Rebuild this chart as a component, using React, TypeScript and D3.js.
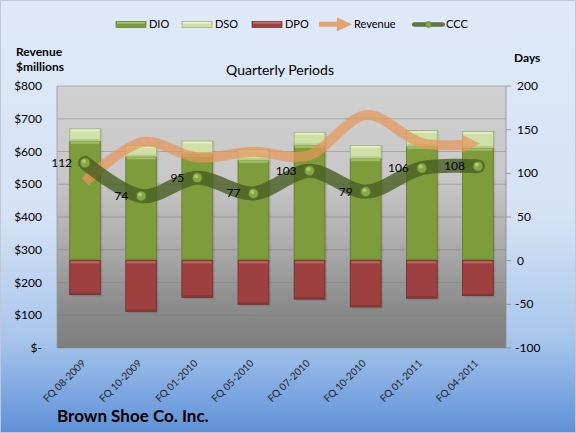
import React from 'react';
import * as d3 from 'd3';

// quarterly periods and values
const periods = ['FQ 08-2009', 'FQ 10-2009', 'FQ 01-2010', 'FQ 05-2010', 'FQ 07-2010', 'FQ 10-2010', 'FQ 01-2011', 'FQ 04-2011'];
const dio = [137, 119, 122, 115, 132, 117, 131, 129];
const dso = [14, 13, 15, 12, 15, 15, 18, 19];
const dpo = [-39, -58, -42, -50, -44, -53, -43, -40];
const revenue = [508, 628, 582, 599, 589, 711, 626, 624];
const ccc = [112, 74, 95, 77, 103, 79, 106, 108];
const revenueTicks = [0, 100, 200, 300, 400, 500, 600, 700, 800];
const dayTicks = [-100, -50, 0, 50, 100, 150, 200];

const W = 576;
const H = 433;
const plot = { left: 57, right: 506, top: 86, bottom: 348 };
const font = 'Lato, "Open Sans", sans-serif';

const colors = {
  dio: '#7E9C3C',
  dioTop: '#A9C56A',
  dioEdge: '#5E7A2A',
  dso: '#CFE0A8',
  dsoTop: '#E8F1D2',
  dsoEdge: '#9CB36D',
  dpo: '#9E4040',
  dpoTop: '#C96E6E',
  dpoEdge: '#6F2A2A',
  revenue: '#E8965A',
  ccc: '#4A5F23',
  cccDot: '#86A845',
};

export default function App() {
  const x = d3.scaleBand<string>().domain(periods).range([plot.left, plot.right]).paddingInner(0.45).paddingOuter(0.225);
  const cx = (i: number) => (x(periods[i]) ?? 0) + x.bandwidth() / 2;
  const yL = d3.scaleLinear().domain([0, 800]).range([plot.bottom, plot.top]);
  const yR = d3.scaleLinear().domain([-100, 200]).range([plot.bottom, plot.top]);
  const bw = x.bandwidth();

  const revPath = d3.line<number>().x((_, i) => cx(i)).y((d) => yL(d)).curve(d3.curveCatmullRom.alpha(0))(revenue) ?? '';
  const cccPath = d3.line<number>().x((_, i) => cx(i)).y((d) => yR(d)).curve(d3.curveCatmullRom.alpha(0))(ccc) ?? '';

  // arrow head at the end of the revenue line
  const n = revenue.length - 1;
  const tipX = cx(n) + 2;
  const tipY = yL(revenue[n]);
  const ang = Math.atan2(yL(revenue[n]) - yL(revenue[n - 1]), cx(n) - cx(n - 1)) * 0.4;
  const headLen = 18;
  const headHalf = 9;
  const bx = tipX - headLen * Math.cos(ang);
  const by = tipY - headLen * Math.sin(ang);
  const head = `M${tipX},${tipY}L${bx - headHalf * Math.sin(ang)},${by + headHalf * Math.cos(ang)}L${bx + headHalf * Math.sin(ang)},${by - headHalf * Math.cos(ang)}Z`;

  const bar = (i: number, y0: number, y1: number, fill: string, top: string, edge: string, key: string) => {
    const xa = x(periods[i]) ?? 0;
    const yt = Math.min(yR(y0), yR(y1));
    const h = Math.abs(yR(y1) - yR(y0));
    return (
      <g key={key}>
        <rect x={xa} y={yt} width={bw} height={h} fill={fill} stroke={edge} strokeWidth={0.8} />
        <rect x={xa + 1} y={yt + 0.6} width={bw - 2} height={2} fill={top} opacity={0.85} />
        <rect x={xa + 1} y={yt + h - 2} width={bw - 2} height={1.5} fill={edge} opacity={0.5} />
      </g>
    );
  };

  const legendItems = [
    { label: 'DIO', x: 116, fill: colors.dio, top: colors.dioTop, edge: colors.dioEdge },
    { label: 'DSO', x: 182, fill: colors.dso, top: colors.dsoTop, edge: colors.dsoEdge },
    { label: 'DPO', x: 252, fill: colors.dpo, top: colors.dpoTop, edge: colors.dpoEdge },
  ];

  return (
    <>
      <style>{'body{margin:0}'}</style>
      <svg width={W} height={H} style={{ display: 'block', fontFamily: font }}>
        <defs>
          <linearGradient id="bg" x1="0" y1="0" x2="0" y2="1">
            <stop offset="0" stopColor="#DFE9F8" />
            <stop offset="0.5" stopColor="#D5E2F5" />
            <stop offset="0.78" stopColor="#A9C6EC" />
            <stop offset="1" stopColor="#5E91D8" />
          </linearGradient>
          <linearGradient id="plotbg" x1="0" y1="0" x2="0" y2="1">
            <stop offset="0" stopColor="#D0D0D0" />
            <stop offset="0.35" stopColor="#C8C8C8" />
            <stop offset="0.6" stopColor="#ADADAD" />
            <stop offset="0.85" stopColor="#8A8A8A" />
            <stop offset="1" stopColor="#7E7E7E" />
          </linearGradient>
          <clipPath id="revclip">
            <rect x={0} y={0} width={bx + 2} height={H} />
          </clipPath>
        </defs>

        <rect x={0.5} y={0.5} width={W - 1} height={H - 1} fill="url(#bg)" stroke="#BFC8D6" />

        {/* legend */}
        <g fontSize={11} fill="#000">
          {legendItems.map((l) => (
            <g key={l.label}>
              <rect x={l.x} y={21.5} width={30} height={6} fill={l.fill} stroke={l.edge} strokeWidth={0.7} />
              <rect x={l.x + 1} y={22} width={28} height={1.6} fill={l.top} />
              <text x={l.x + 33} y={28.3}>{l.label}</text>
            </g>
          ))}
          <path d="M319,21.8L337,21.8L337,17.3L352,24.3L337,31.3L337,26.8L319,26.8Z" fill={colors.revenue} opacity={0.85} />
          <text x={354} y={28.3}>Revenue</text>
          <rect x={412} y={22.3} width={33} height={4.4} rx={2.2} fill={colors.ccc} opacity={0.85} />
          <circle cx={428.5} cy={24.5} r={3} fill={colors.cccDot} stroke="#5E7A2A" strokeWidth={0.6} />
          <text x={446} y={28.3}>CCC</text>
        </g>

        {/* axis titles */}
        <g fontSize={12} fontWeight="bold" fill="#000">
          <text x={16} y={56}>Revenue</text>
          <text x={16} y={71}>$millions</text>
          <text x={514} y={62}>Days</text>
        </g>
        <text x={280} y={75} fontSize={14} textAnchor="middle" fill="#000">Quarterly Periods</text>

        {/* plot area */}
        <rect x={plot.left} y={plot.top} width={plot.right - plot.left} height={plot.bottom - plot.top} fill="url(#plotbg)" />
        {revenueTicks.map((t) => (
          <line key={t} x1={plot.left} x2={plot.right} y1={yL(t)} y2={yL(t)} stroke="#7A7A7A" strokeOpacity={0.55} strokeWidth={0.8} />
        ))}
        <line x1={plot.left} x2={plot.left} y1={plot.top} y2={plot.bottom} stroke="#9A9A9A" strokeWidth={0.8} />
        <line x1={plot.right} x2={plot.right} y1={plot.top} y2={plot.bottom} stroke="#8A8A8A" strokeWidth={0.8} />

        {/* left axis */}
        <g fontSize={12} fill="#000" textAnchor="end">
          {revenueTicks.map((t) => (
            <text key={t} x={42} y={yL(t) + 4}>{t === 0 ? '$-' : `$${t}`}</text>
          ))}
        </g>
        {/* right axis */}
        <g fontSize={12} fill="#000">
          {dayTicks.map((t) => (
            <g key={t}>
              <line x1={plot.right} x2={plot.right + 5} y1={yR(t)} y2={yR(t)} stroke="#8A8A8A" strokeWidth={0.8} />
              <text x={t < 0 ? 515 : 517} y={yR(t) + 4}>{t}</text>
            </g>
          ))}
        </g>

        {/* bars */}
        {periods.map((p, i) => (
          <g key={p}>
            <rect x={(x(p) ?? 0) + 2} y={yR(dio[i] + dso[i])} width={bw} height={yR(dpo[i]) - yR(dio[i] + dso[i]) + 2} fill="#000" opacity={0.08} />
            {bar(i, 0, dio[i], colors.dio, colors.dioTop, colors.dioEdge, 'dio')}
            {bar(i, dio[i], dio[i] + dso[i], colors.dso, colors.dsoTop, colors.dsoEdge, 'dso')}
            {bar(i, dpo[i], 0, colors.dpo, colors.dpoTop, colors.dpoEdge, 'dpo')}
          </g>
        ))}

        {/* revenue line */}
        <g opacity={0.72}>
          <path d={revPath} fill="none" stroke={colors.revenue} strokeWidth={10} clipPath="url(#revclip)" />
          <path d={head} fill={colors.revenue} />
        </g>

        {/* CCC line */}
        <path d={cccPath} fill="none" stroke={colors.ccc} strokeWidth={14} strokeLinecap="round" strokeLinejoin="round" opacity={0.8} />
        {ccc.map((v, i) => (
          <g key={i}>
            <circle cx={cx(i)} cy={yR(v)} r={5} fill={colors.cccDot} stroke="#5A7428" strokeWidth={0.8} />
            <circle cx={cx(i) - 1.2} cy={yR(v) - 1.5} r={2} fill="#B8D27E" opacity={0.8} />
            <text x={cx(i) - 13} y={yR(v) + 4} fontSize={12} textAnchor="end" fill="#000">{v}</text>
          </g>
        ))}

        {/* category labels */}
        <g fontSize={10} fill="#222" textAnchor="end">
          {periods.map((p, i) => (
            <text key={p} transform={`translate(${cx(i) + 1},${plot.bottom + 16}) rotate(-45)`}>{p}</text>
          ))}
        </g>

        <text x={57} y={422} fontSize={17} fontWeight="bold" fill="#000">Brown Shoe Co. Inc.</text>
      </svg>
    </>
  );
}
